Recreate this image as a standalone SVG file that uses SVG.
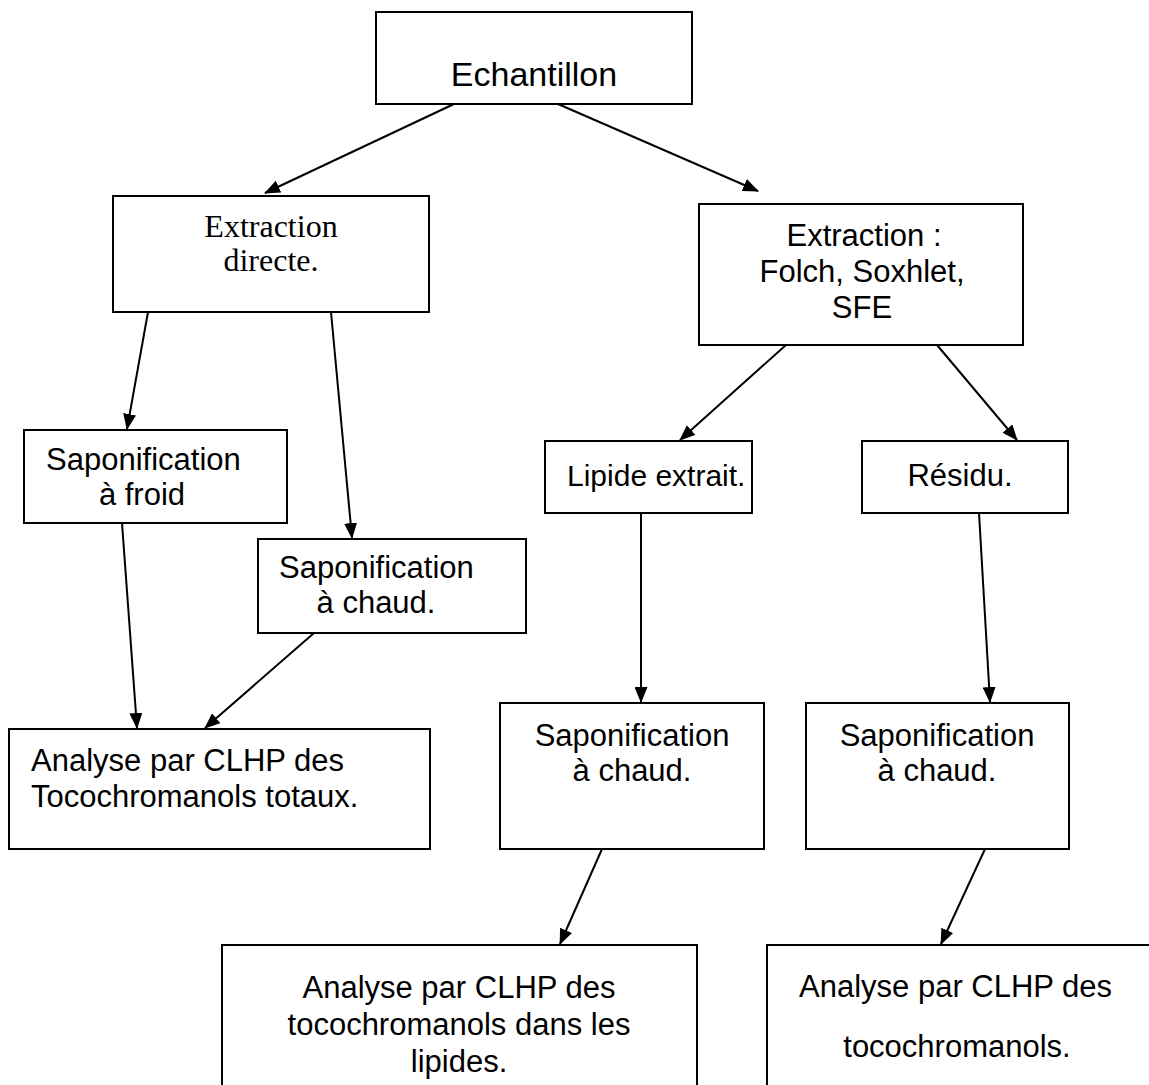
<svg xmlns="http://www.w3.org/2000/svg" width="1149" height="1085" viewBox="0 0 1149 1085">
<style>
.box{fill:#fff;stroke:#000;stroke-width:2}
.t{font-family:"Liberation Sans",Arial,sans-serif;font-size:31px;fill:#000}
.big{font-size:34px}
.tr{font-family:"Liberation Serif","Times New Roman",serif;font-size:32px;fill:#000}
.c{stroke:#000;stroke-width:2;fill:none;marker-end:url(#ah)}
</style>
<defs>
<marker id="ah" viewBox="0 0 16 13" refX="15" refY="6.5" markerWidth="16" markerHeight="13" markerUnits="userSpaceOnUse" orient="auto">
<path d="M0,0 L16,6.5 L0,13 Z" fill="#000"/>
</marker>
</defs>
<rect width="1149" height="1085" fill="#fff"/>
<g id="connectors">
<line class="c" x1="454" y1="104" x2="265" y2="193"/>
<line class="c" x1="558" y1="104" x2="758" y2="191"/>
<line class="c" x1="148" y1="312" x2="127" y2="429"/>
<line class="c" x1="331" y1="312" x2="352" y2="538"/>
<line class="c" x1="122" y1="523" x2="137" y2="728"/>
<line class="c" x1="314" y1="633" x2="205" y2="728"/>
<line class="c" x1="786" y1="345" x2="680" y2="440"/>
<line class="c" x1="937" y1="345" x2="1017" y2="440"/>
<line class="c" x1="641" y1="513" x2="641" y2="702"/>
<line class="c" x1="979" y1="513" x2="990" y2="702"/>
<line class="c" x1="602" y1="849" x2="560" y2="944"/>
<line class="c" x1="985" y1="849" x2="941" y2="944"/>
</g>
<g id="n1">
<rect class="box" x="376" y="12" width="316" height="92"/>
<text class="t big" x="534" y="86" text-anchor="middle">Echantillon</text>
</g>
<g id="n2">
<rect class="box" x="113" y="196" width="316" height="116"/>
<text class="tr" x="271" y="237" text-anchor="middle">Extraction</text>
<text class="tr" x="271" y="271" text-anchor="middle">directe.</text>
</g>
<g id="n3">
<rect class="box" x="699" y="204" width="324" height="141"/>
<text class="t" x="864" y="246" text-anchor="middle">Extraction :</text>
<text class="t" x="862" y="282" text-anchor="middle">Folch, Soxhlet,</text>
<text class="t" x="862" y="318" text-anchor="middle">SFE</text>
</g>
<g id="n4">
<rect class="box" x="24" y="430" width="263" height="93"/>
<text class="t" x="46" y="470">Saponification</text>
<text class="t" x="142" y="505" text-anchor="middle">à froid</text>
</g>
<g id="n5">
<rect class="box" x="258" y="539" width="268" height="94"/>
<text class="t" x="279" y="578">Saponification</text>
<text class="t" x="376" y="613" text-anchor="middle">à chaud.</text>
</g>
<g id="n6">
<rect class="box" x="9" y="729" width="421" height="120"/>
<text class="t" x="31" y="771">Analyse par CLHP des</text>
<text class="t" x="31" y="807">Tocochromanols totaux.</text>
</g>
<g id="n7">
<rect class="box" x="545" y="441" width="207" height="72"/>
<text class="t" x="567" y="486" style="font-size:30px">Lipide extrait.</text>
</g>
<g id="n8">
<rect class="box" x="862" y="441" width="206" height="72"/>
<text class="t" x="960" y="486" text-anchor="middle">Résidu.</text>
</g>
<g id="n9">
<rect class="box" x="500" y="703" width="264" height="146"/>
<text class="t" x="632" y="746" text-anchor="middle">Saponification</text>
<text class="t" x="632" y="781" text-anchor="middle">à chaud.</text>
</g>
<g id="n10">
<rect class="box" x="806" y="703" width="263" height="146"/>
<text class="t" x="937" y="746" text-anchor="middle">Saponification</text>
<text class="t" x="937" y="781" text-anchor="middle">à chaud.</text>
</g>
<g id="n11">
<rect class="box" x="222" y="945" width="475" height="160"/>
<text class="t" x="459" y="998" text-anchor="middle">Analyse par CLHP des</text>
<text class="t" x="459" y="1035" text-anchor="middle">tocochromanols dans les</text>
<text class="t" x="459" y="1072" text-anchor="middle">lipides.</text>
</g>
<g id="n12">
<rect class="box" x="767" y="945" width="400" height="160"/>
<text class="t" x="799" y="997">Analyse par CLHP des</text>
<text class="t" x="957" y="1057" text-anchor="middle">tocochromanols.</text>
</g>
</svg>
